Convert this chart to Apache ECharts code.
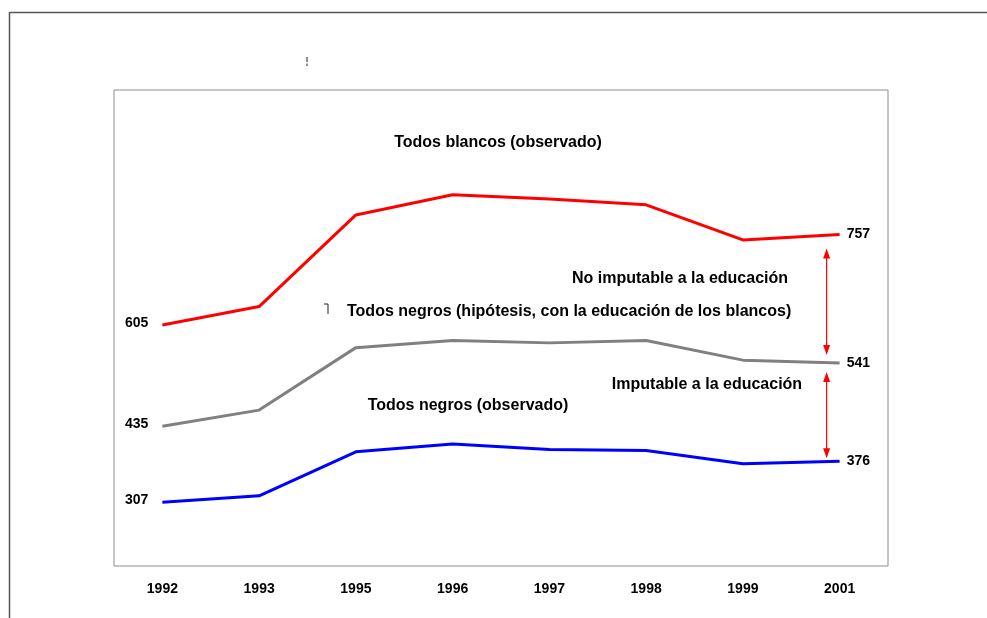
<!DOCTYPE html>
<html><head><meta charset="utf-8">
<script src="https://cdn.jsdelivr.net/npm/echarts@6/dist/echarts.min.js"></script>
<style>html,body{margin:0;padding:0;background:#fff}#c{width:987px;height:618px}</style>
</head><body><div id="c"></div>
<script>
const years = ['1992','1993','1995','1996','1997','1998','1999','2001'];
const blancos = [605,636,790,824,817,807,748,757];
const negrosHip = [435,462,567,579,575,579,546,541];
const negros = [307,318,392,405,396,394,372,376];
const labelBlancos = 'Todos blancos (observado)';
const labelHip = 'Todos negros (hipótesis, con la educación de los blancos)';
const labelNegros = 'Todos negros (observado)';
const labelNoImp = 'No imputable a la educación';
const labelImp = 'Imputable a la educación';

const FONT = '"Liberation Sans", Arial, sans-serif';
const chart = echarts.init(document.getElementById('c'), null, {renderer:'canvas'});
const last = years.length - 1;
function mk(vals, color, name){
  return {
    name, type:'line', data: vals.map((v,i)=>({value:v, label:{show:i===0||i===last, position:i===0?'left':'right', distance:i===0?14:7, offset:i===0?[0,-2]:[0,0]}})),
    symbol:'circle', symbolSize:0.1, showSymbol:true, itemStyle:{color},
    lineStyle:{color, width:3}, animation:false, silent:true,
    label:{color:'#000', fontFamily:FONT, fontWeight:'bold', fontSize:14, opacity:1}
  };
}
chart.setOption({
  animation:false,
  grid:{left:114, right:99, top:90, bottom:52, show:true, borderColor:'#8c8c8c', borderWidth:1},
  xAxis:{type:'category', data:years, boundaryGap:true, axisLine:{show:false}, axisTick:{show:false},
    axisLabel:{color:'#000', fontFamily:FONT, fontWeight:'bold', fontSize:14, margin:16}},
  yAxis:{type:'value', min:200, max:1000, show:false, splitLine:{show:false}},
  series:[mk(blancos,'#ff0000','b'), mk(negrosHip,'#808080','h'), mk(negros,'#0000ff','n')]
});

function build(){
  const p = (i,v)=>chart.convertToPixel({xAxisIndex:0,yAxisIndex:0},[i,v]);
  const endR = p(last, blancos[last]), endG = p(last, negrosHip[last]), endB = p(last, negros[last]);
  const ax = endR[0] - 13;
  const txt = (x,y,t,align)=>({type:'text', x, y, style:{text:t, fill:'#000', font:'bold 16px '+FONT, align:align||'left', verticalAlign:'middle'}});
  function arrow(y1,y2){
    const c='#ff0000';
    return [
      {type:'line', shape:{x1:ax,y1:y1+8,x2:ax,y2:y2-8}, style:{stroke:c, lineWidth:1.2}},
      {type:'polygon', shape:{points:[[ax,y1],[ax-3.5,y1+10],[ax+3.5,y1+10]]}, style:{fill:c}},
      {type:'polygon', shape:{points:[[ax,y2],[ax-3.5,y2-10],[ax+3.5,y2-10]]}, style:{fill:c}}
    ];
  }
  const els = [
    {type:'line', shape:{x1:10,y1:12.5,x2:987,y2:12.5}, style:{stroke:'#555', lineWidth:1.5}},
    {type:'line', shape:{x1:9.5,y1:12,x2:9.5,y2:618}, style:{stroke:'#555', lineWidth:1.5}},
    {type:'line', shape:{x1:307,y1:57,x2:307,y2:66}, style:{stroke:'#444', lineWidth:1.2, lineDash:[5,1.5]}},
    {type:'polyline', shape:{points:[[324,304],[328,304],[328,314]]}, style:{stroke:'#222', lineWidth:1}},
    txt(498,143,labelBlancos,'center'),
    txt(680,279,labelNoImp,'center'),
    txt(347,312,labelHip,'left'),
    txt(707,385,labelImp,'center'),
    txt(468,406,labelNegros,'center'),
  ].concat(arrow(endR[1]+14, endG[1]-8), arrow(endG[1]+9, endB[1]-3));
  chart.setOption({graphic:{elements:els}});
}
build();
</script></body></html>
